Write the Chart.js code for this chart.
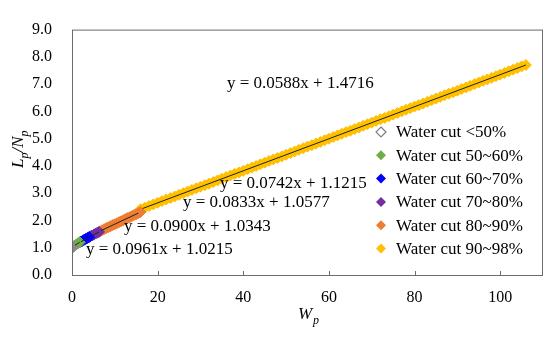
<!DOCTYPE html>
<html>
<head>
<meta charset="utf-8">
<script src="https://cdn.jsdelivr.net/npm/chart.js@4.4.0/dist/chart.umd.min.js"></script>
<style>
  html, body { margin: 0; padding: 0; background: #fff; }
  #wrap { width: 550px; height: 337px; }
</style>
</head>
<body>
<div id="wrap"><canvas id="chart"></canvas></div>
<script>
// water cut groups
const seriesNames = ['Water cut <50%', 'Water cut 50~60%', 'Water cut 60~70%', 'Water cut 70~80%', 'Water cut 80~90%', 'Water cut 90~98%'];
const seriesColors = ['#8c8c8c', '#70AD47', '#0000FF', '#7030A0', '#ED7D31', '#FFC000'];

// Wp values
const wpA = [0, 0.3];
const wpB = [0.6, 1.0, 1.4, 1.8];
const wpC = [2.0, 2.4, 2.8, 3.2, 3.6, 4.0];
const wpD = [4.3, 4.7, 5.1, 5.5, 5.9, 6.3];
const wpE = [6.5, 7, 7.5, 8, 8.5, 9, 9.5, 10, 10.5, 11, 11.5, 12, 12.5, 13, 13.5, 14, 14.5, 15, 15.5, 16];
const wpF = [16, 17, 18, 19, 20, 21, 22, 23, 24, 25, 26, 27, 28, 29, 30, 31, 32, 33, 34, 35,
  36, 37, 38, 39, 40, 41, 42, 43, 44, 45, 46, 47, 48, 49, 50, 51, 52, 53, 54, 55,
  56, 57, 58, 59, 60, 61, 62, 63, 64, 65, 66, 67, 68, 69, 70, 71, 72, 73, 74, 75,
  76, 77, 78, 79, 80, 81, 82, 83, 84, 85, 86, 87, 88, 89, 90, 91, 92, 93, 94, 95,
  96, 97, 98, 99, 100, 101, 102, 103, 104, 105, 106];

// Lp/Np values
const lnA = [1.00, 1.03];
const lnB = [1.08, 1.12, 1.16, 1.20];
const lnC = [1.22, 1.25, 1.29, 1.32, 1.36, 1.39];
const lnD = [1.42, 1.45, 1.48, 1.52, 1.55, 1.58];
const lnE = [1.60, 1.64, 1.68, 1.72, 1.75, 1.79, 1.83, 1.86, 1.90, 1.94, 1.97, 2.01, 2.05, 2.09, 2.12, 2.16, 2.20, 2.23, 2.27, 2.31];
const lnF = [2.41, 2.47, 2.53, 2.59, 2.65, 2.71, 2.77, 2.82, 2.88, 2.94, 3.00, 3.06, 3.12, 3.18, 3.24, 3.29, 3.35, 3.41, 3.47, 3.53,
  3.59, 3.65, 3.71, 3.76, 3.82, 3.88, 3.94, 4.00, 4.06, 4.12, 4.18, 4.24, 4.29, 4.35, 4.41, 4.47, 4.53, 4.59, 4.65, 4.71,
  4.76, 4.82, 4.88, 4.94, 5.00, 5.06, 5.12, 5.18, 5.24, 5.29, 5.35, 5.41, 5.47, 5.53, 5.59, 5.65, 5.71, 5.76, 5.82, 5.88,
  5.94, 6.00, 6.06, 6.12, 6.18, 6.23, 6.29, 6.35, 6.41, 6.47, 6.53, 6.59, 6.65, 6.70, 6.76, 6.82, 6.88, 6.94, 7.00, 7.06,
  7.12, 7.17, 7.23, 7.29, 7.35, 7.41, 7.47, 7.53, 7.59, 7.65, 7.70];

// fitted trend lines: [x0, y0, x1, y1]
const trendB = [0.7, 1.09, 1.8, 1.20];
const trendC = [2.1, 1.22, 4.0, 1.39];
const trendD = [4.4, 1.42, 6.3, 1.58];
const trendE = [6.8, 1.63, 15.5, 2.27];
const trendF = [16.5, 2.44, 106, 7.70];

const equations = ['y = 0.0961x + 1.0215', 'y = 0.0900x + 1.0343', 'y = 0.0833x + 1.0577', 'y = 0.0742x + 1.1215', 'y = 0.0588x + 1.4716'];

const xTicks = [0, 20, 40, 60, 80, 100];

const zip = (xs, ys) => xs.map((x, i) => ({ x: x, y: ys[i] }));
const seg = t => [{ x: t[0], y: t[1] }, { x: t[2], y: t[3] }];

const pointSets = [zip(wpA, lnA), zip(wpB, lnB), zip(wpC, lnC), zip(wpD, lnD), zip(wpE, lnE), zip(wpF, lnF)];
const datasets = pointSets.map((pts, i) => ({
  label: seriesNames[i],
  data: pts,
  pointStyle: 'rectRot',
  pointRadius: 5.5,
  pointBackgroundColor: seriesColors[i],
  pointBorderColor: seriesColors[i],
  pointBorderWidth: 1,
  showLine: false,
  order: 2
}));
[trendB, trendC, trendD, trendE, trendF].forEach(t => {
  datasets.push({
    label: 'trend',
    data: seg(t),
    showLine: true,
    borderColor: '#222',
    borderWidth: 1,
    pointRadius: 0,
    order: 1
  });
});

const serif = "'Liberation Serif', 'Times New Roman', serif";

const decor = {
  id: 'decor',
  afterDraw(chart) {
    const ctx = chart.ctx;
    const a = chart.chartArea;
    const xs = chart.scales.x;
    ctx.save();
    // plot frame
    ctx.strokeStyle = '#6b6b6b';
    ctx.lineWidth = 1;
    ctx.strokeRect(a.left + 0.5, a.top + 0.5, a.right - a.left - 1, a.bottom - a.top);
    // inside ticks on x axis
    ctx.beginPath();
    xTicks.forEach(v => {
      const px = Math.round(xs.getPixelForValue(v)) + 0.5;
      ctx.moveTo(px, a.bottom);
      ctx.lineTo(px, a.bottom - 4);
    });
    ctx.stroke();

    // trend equations
    ctx.fillStyle = '#000';
    ctx.font = '17px ' + serif;
    ctx.textBaseline = 'middle';
    ctx.textAlign = 'left';
    const eqPos = [[86, 250], [124, 227], [183, 203], [220, 184], [227, 84]];
    equations.forEach((s, i) => ctx.fillText(s, eqPos[i][0], eqPos[i][1]));

    // legend
    seriesNames.forEach((name, i) => {
      const y = 132 + i * 23.3;
      const x = 381;
      ctx.beginPath();
      ctx.moveTo(x, y - 5);
      ctx.lineTo(x + 5, y);
      ctx.lineTo(x, y + 5);
      ctx.lineTo(x - 5, y);
      ctx.closePath();
      if (i === 0) {
        ctx.fillStyle = '#fff';
        ctx.fill();
        ctx.strokeStyle = '#7f7f7f';
        ctx.lineWidth = 1.2;
        ctx.stroke();
      } else {
        ctx.fillStyle = seriesColors[i];
        ctx.fill();
      }
      ctx.fillStyle = '#000';
      ctx.fillText(name, 396, y + 1);
    });

    // x axis title: W_p
    ctx.font = 'italic 17px ' + serif;
    ctx.fillText('W', 298, 315);
    ctx.font = 'italic 12px ' + serif;
    ctx.fillText('p', 313, 321);

    // y axis title: L_p/N_p (rotated)
    ctx.translate(19, 140);
    ctx.rotate(-Math.PI / 2);
    ctx.textAlign = 'left';
    let cx = -28;
    const part = (txt, size, dy) => {
      ctx.font = 'italic ' + size + 'px ' + serif;
      ctx.fillText(txt, cx, dy);
      cx += ctx.measureText(txt).width;
    };
    part('L', 17, 0);
    part('p', 12, 6);
    part('/', 17, 0);
    part('N', 17, 0);
    part('p', 12, 6);
    ctx.restore();
  }
};

new Chart(document.getElementById('chart'), {
  type: 'scatter',
  data: { datasets: datasets },
  options: {
    responsive: true,
    maintainAspectRatio: false,
    animation: false,
    layout: { padding: { top: 10, right: 7, bottom: 0, left: 0 } },
    plugins: {
      legend: { display: false },
      tooltip: { enabled: false }
    },
    scales: {
      x: {
        type: 'linear',
        min: 0,
        max: 110,
        afterFit: s => { s.height = 62; },
        afterBuildTicks: s => { s.ticks = xTicks.map(v => ({ value: v })); },
        grid: { display: false, drawTicks: false },
        border: { display: false },
        ticks: {
          padding: 13,
          color: '#000',
          font: { family: serif, size: 16 },
          maxRotation: 0
        }
      },
      y: {
        type: 'linear',
        min: 0,
        max: 9,
        afterFit: s => { s.width = 72; },
        grid: { display: false, drawTicks: false },
        border: { display: false },
        ticks: {
          stepSize: 1,
          padding: 20,
          color: '#000',
          font: { family: serif, size: 16 },
          callback: v => v.toFixed(1)
        }
      }
    }
  },
  plugins: [decor]
});
</script>
</body>
</html>
